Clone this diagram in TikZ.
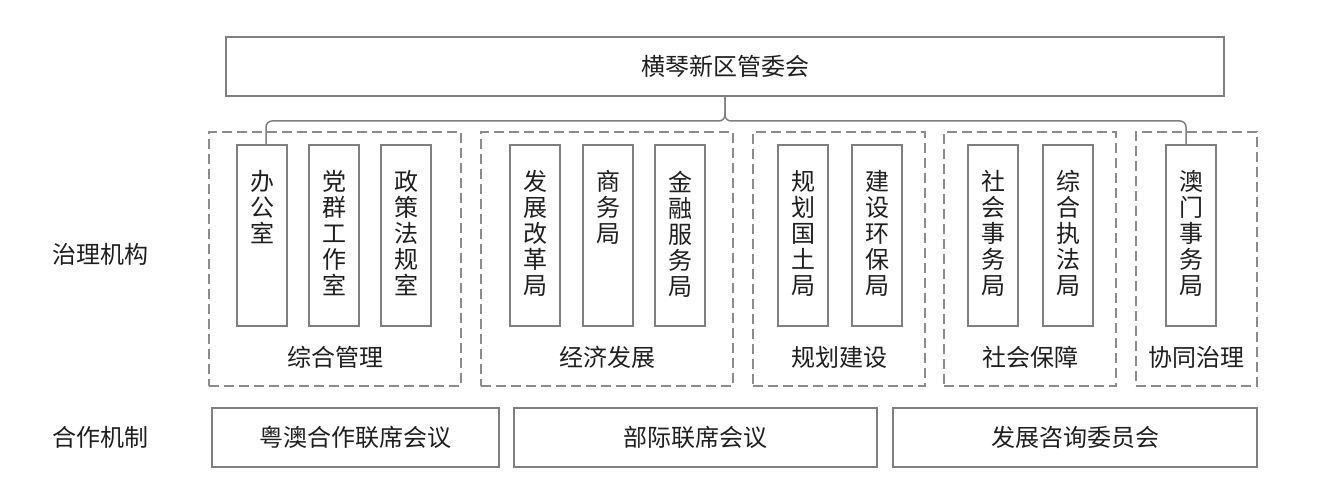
\documentclass[tikz,border=0pt]{standalone}
\usepackage{fontspec}
\setmainfont{Noto Sans CJK SC}
\usetikzlibrary{positioning, calc}
\definecolor{linegrey}{rgb}{0.5, 0.5, 0.5}
\definecolor{dashgrey}{rgb}{0.55, 0.55, 0.55}
\definecolor{textgrey}{rgb}{0.12, 0.12, 0.12}

\tikzset{
    box/.style={draw=linegrey, line width=0.75pt, inner sep=0pt, minimum height=29.5pt, text=textgrey, font=\fontsize{12pt}{13pt}\selectfont},
    unit/.style={draw=linegrey, line width=0.75pt, inner sep=0pt, minimum width=25pt, minimum height=90.5pt},
    vtext/.style={anchor=north, align=center, inner sep=0pt, text=textgrey, font=\fontsize{12pt}{13pt}\selectfont},
    grp/.style={draw=dashgrey, line width=0.75pt, dash pattern=on 5pt off 2.5pt, inner sep=0pt, minimum height=127pt},
    glabel/.style={inner sep=0pt, text=textgrey, font=\fontsize{12pt}{13pt}\selectfont},
    conn/.style={draw=linegrey, line width=0.75pt, rounded corners=3pt}
}

\begin{document}
\begin{tikzpicture}[x=0.5pt, y=-0.5pt]
        \useasboundingbox (0,0) rectangle (1338,481);

        % top
        \node[box, minimum width=499pt] (top) at (725,66.5) {横琴新区管委会};

        % groups
        \node[grp, minimum width=126pt] (G1) at (335,259) {};
        \node[grp, minimum width=126pt] (G2) at (607,259) {};
        \node[grp, minimum width=86pt] (G3) at (839,259) {};
        \node[grp, minimum width=86pt] (G4) at (1030,259) {};
        \node[grp, minimum width=60.5pt] (G5) at (1196.5,259) {};

        \node[glabel] (L1) at (335,357) {综合管理};
        \node[glabel] (L2) at (607,357) {经济发展};
        \node[glabel] (L3) at (839,357) {规划建设};
        \node[glabel] (L4) at (1030,357) {社会保障};
        \node[glabel] (L5) at (1196.5,357) {协同治理};

        % units
        \node[unit] (U1) at (262,235.5) {};
        \node[unit] (U2) at (334,235.5) {};
        \node[unit] (U3) at (406,235.5) {};
        \node[unit] (U4) at (535,235.5) {};
        \node[unit] (U5) at (608,235.5) {};
        \node[unit] (U6) at (680,235.5) {};
        \node[unit] (U7) at (803,235.5) {};
        \node[unit] (U8) at (877,235.5) {};
        \node[unit] (U9) at (993,235.5) {};
        \node[unit] (U10) at (1068,235.5) {};
        \node[unit] (U11) at (1191,235.5) {};

        \node[vtext] (T1) at ([yshift=-13pt]U1.north) {办\\公\\室};
        \node[vtext] (T2) at ([yshift=-13pt]U2.north) {党\\群\\工\\作\\室};
        \node[vtext] (T3) at ([yshift=-13pt]U3.north) {政\\策\\法\\规\\室};
        \node[vtext] (T4) at ([yshift=-13pt]U4.north) {发\\展\\改\\革\\局};
        \node[vtext] (T5) at ([yshift=-13pt]U5.north) {商\\务\\局};
        \node[vtext] (T6) at ([yshift=-13pt]U6.north) {金\\融\\服\\务\\局};
        \node[vtext] (T7) at ([yshift=-13pt]U7.north) {规\\划\\国\\土\\局};
        \node[vtext] (T8) at ([yshift=-13pt]U8.north) {建\\设\\环\\保\\局};
        \node[vtext] (T9) at ([yshift=-13pt]U9.north) {社\\会\\事\\务\\局};
        \node[vtext] (T10) at ([yshift=-13pt]U10.north) {综\\合\\执\\法\\局};
        \node[vtext] (T11) at ([yshift=-13pt]U11.north) {澳\\门\\事\\务\\局};

        % brace
        \coordinate (J) at (725,121);
        \draw[conn] (top.south) -- (J) -| ([xshift=2pt]U1.north);
        \draw[conn] (top.south) -- (J) -| ([xshift=-2.5pt]U11.north);

        % left labels
        \node[glabel] (R1) at (100,254) {治理机构};
        \node[glabel] (R2) at (100,437) {合作机制};

        % bottom
        \node[box, minimum width=143.5pt] (B1) at (355.5,437.5) {粤澳合作联席会议};
        \node[box, minimum width=181.5pt] (B2) at (695.5,437.5) {部际联席会议};
        \node[box, minimum width=182pt] (B3) at (1075,437.5) {发展咨询委员会};
    \end{tikzpicture}
\end{document}
